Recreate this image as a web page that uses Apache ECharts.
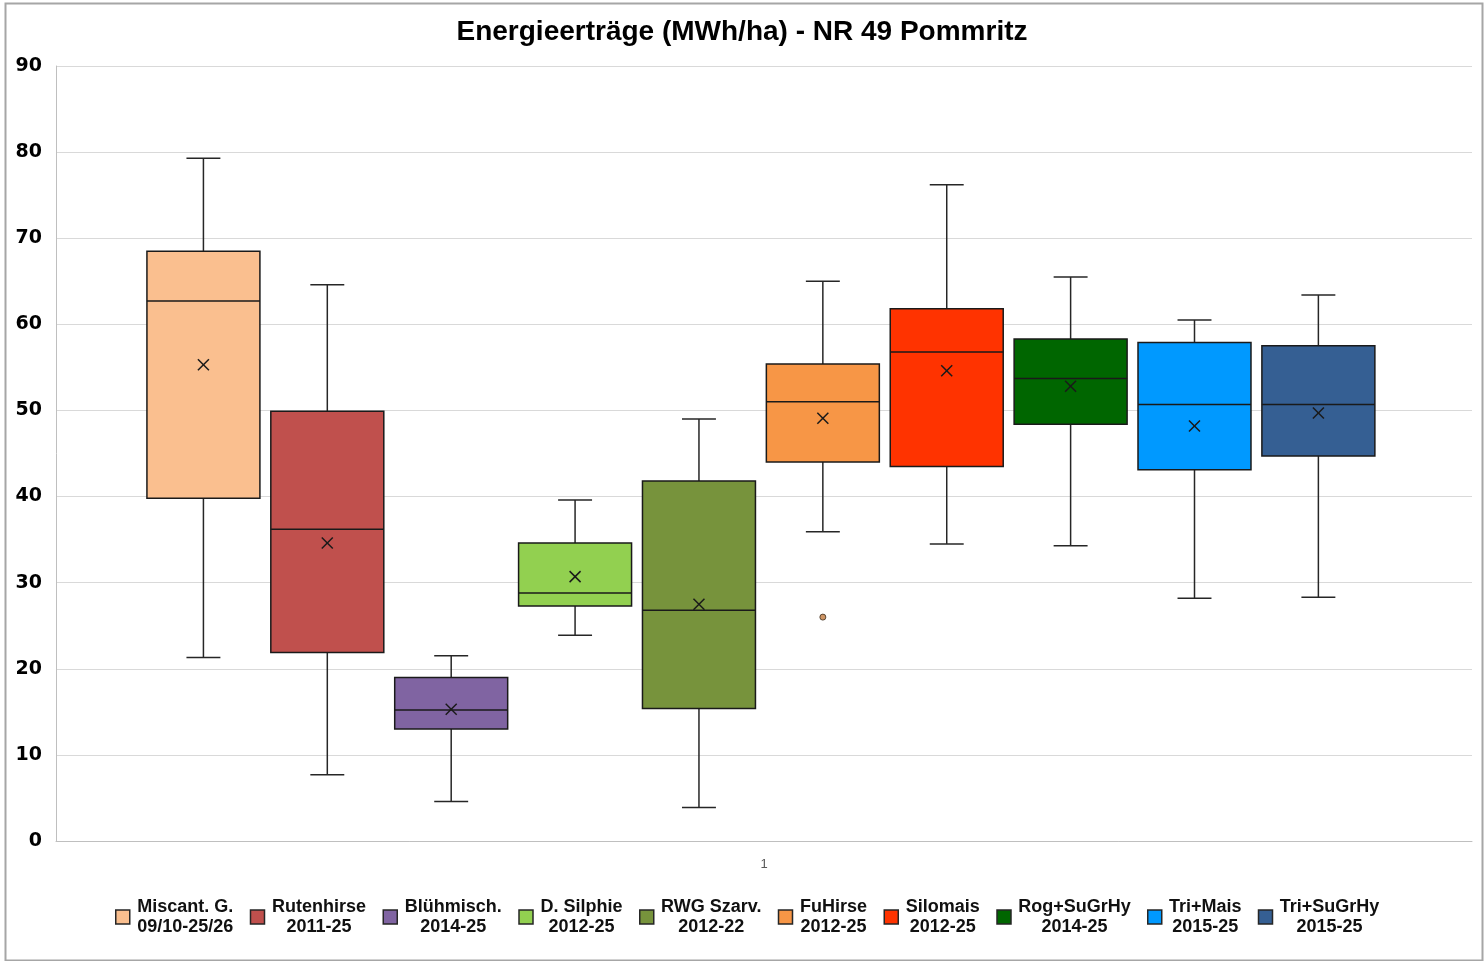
<!DOCTYPE html>
<html>
<head>
<meta charset="utf-8">
<title>Energieerträge NR 49 Pommritz</title>
<script src="https://cdn.jsdelivr.net/npm/echarts@6/dist/echarts.min.js"></script>
<style>
  html, body { margin: 0; padding: 0; background: #fff; }
  #chartBox { width: 1484px; height: 961px; }
</style>
</head>
<body>
<div id="chartBox"></div>
<script>
// Kulturen (Legende, zweizeilig)
var categories = [
  "Miscant. G.\n09/10-25/26",
  "Rutenhirse\n2011-25",
  "Blühmisch.\n2014-25",
  "D. Silphie\n2012-25",
  "RWG Szarv.\n2012-22",
  "FuHirse\n2012-25",
  "Silomais\n2012-25",
  "Rog+SuGrHy\n2014-25",
  "Tri+Mais\n2015-25",
  "Tri+SuGrHy\n2015-25"
];
var colors = ["#FABF8F", "#C0504D", "#8064A2", "#92D050", "#77933C",
              "#F79646", "#FF3300", "#006600", "#0099FF", "#355F93"];

// Kennwerte (MWh/ha)
var minVals    = [21.3,  7.7,  4.6, 23.9,  3.9, 35.9, 34.5, 34.3, 28.2, 28.3];
var q1Vals     = [39.8, 21.9, 13.0, 27.3, 15.4, 44.0, 43.5, 48.4, 43.1, 44.7];
var medianVals = [62.7, 36.2, 15.2, 28.8, 26.8, 51.0, 56.8, 53.7, 50.7, 50.7];
var q3Vals     = [68.5, 49.9, 19.0, 34.6, 41.8, 55.4, 61.8, 58.3, 57.9, 57.5];
var maxVals    = [79.3, 64.6, 21.5, 39.6, 49.0, 65.0, 76.2, 65.5, 60.5, 63.4];
var meanVals   = [55.3, 34.6, 15.3, 30.7, 27.5, 49.1, 54.6, 52.8, 48.2, 49.7];
// Ausreißer: [Kultur-Index, Wert]
var outliers = [[5, 26.0]];

var yTicks = [0, 10, 20, 30, 40, 50, 60, 70, 80, 90];
var xLabels = ["1"];

var legendFont = "bold 18px 'Liberation Sans', Arial, sans-serif";

// Breite der längsten Zeile messen, damit beide Zeilen zentriert stehen
var measureCtx = document.createElement("canvas").getContext("2d");
measureCtx.font = legendFont;
var richStyles = {};
categories.forEach(function (name, i) {
  var w = 0;
  name.split("\n").forEach(function (line) {
    w = Math.max(w, measureCtx.measureText(line).width);
  });
  richStyles["c" + i] = {
    width: Math.ceil(w),
    align: "center",
    fontSize: 18,
    fontWeight: "bold",
    fontFamily: "'Liberation Sans', Arial, sans-serif",
    color: "#111",
    lineHeight: 20,
    padding: [0, 0, 0, 2]
  };
});

//Box zeichnen
function renderBox(params, api) {
  var x = api.value(0);
  var lo = api.coord([x, api.value(1)]);
  var q1 = api.coord([x, api.value(2)]);
  var med = api.coord([x, api.value(3)]);
  var q3 = api.coord([x, api.value(4)]);
  var hi = api.coord([x, api.value(5)]);
  var mean = api.coord([x, api.value(6)]);
  var bw = api.size([0.912, 0])[0];
  var cw = api.size([0.274, 0])[0];
  var cx = lo[0];
  var fill = api.visual("color");
  var lineStyle = { stroke: "#262626", lineWidth: 1.5 };
  var m = 5.5;
  return {
    type: "group",
    children: [
      { type: "line", shape: { x1: cx, y1: q1[1], x2: cx, y2: lo[1] }, style: lineStyle },
      { type: "line", shape: { x1: cx, y1: q3[1], x2: cx, y2: hi[1] }, style: lineStyle },
      { type: "line", shape: { x1: cx - cw / 2, y1: lo[1], x2: cx + cw / 2, y2: lo[1] }, style: lineStyle },
      { type: "line", shape: { x1: cx - cw / 2, y1: hi[1], x2: cx + cw / 2, y2: hi[1] }, style: lineStyle },
      {
        type: "rect",
        shape: { x: cx - bw / 2, y: q3[1], width: bw, height: q1[1] - q3[1] },
        style: { fill: fill, stroke: "#1a1a1a", lineWidth: 1.5 }
      },
      { type: "line", shape: { x1: cx - bw / 2, y1: med[1], x2: cx + bw / 2, y2: med[1] }, style: { stroke: "#1a1a1a", lineWidth: 1.5 } },
      { type: "line", shape: { x1: mean[0] - m, y1: mean[1] - m, x2: mean[0] + m, y2: mean[1] + m }, style: { stroke: "#1a1a1a", lineWidth: 1.5 } },
      { type: "line", shape: { x1: mean[0] - m, y1: mean[1] + m, x2: mean[0] + m, y2: mean[1] - m }, style: { stroke: "#1a1a1a", lineWidth: 1.5 } }
    ]
  };
}

var seriesList = categories.map(function (name, i) {
  return {
    name: name,
    type: "custom",
    xAxisIndex: 0,
    yAxisIndex: 0,
    renderItem: renderBox,
    itemStyle: { color: colors[i], borderColor: "#262626", borderWidth: 1 },
    encode: { x: 0, y: [1, 2, 3, 4, 5] },
    data: [[i + 1, minVals[i], q1Vals[i], medianVals[i], q3Vals[i], maxVals[i], meanVals[i]]],
    z: 3
  };
});

seriesList.push({
  name: "Ausreißer",
  type: "scatter",
  xAxisIndex: 0,
  yAxisIndex: 0,
  symbol: "circle",
  symbolSize: 6,
  itemStyle: { color: "#C27A3E", borderColor: "#3a2a1a", borderWidth: 1 },
  data: outliers.map(function (o) { return [o[0] + 1, o[1]]; }),
  z: 4
});

var chart = echarts.init(document.getElementById("chartBox"));

var option = {
  backgroundColor: "#fff",
  animation: false,
  title: {
    text: "Energieerträge (MWh/ha) - NR 49 Pommritz",
    left: "center",
    top: 13,
    textStyle: {
      fontFamily: "'Liberation Sans', Arial, sans-serif",
      fontSize: 28,
      fontWeight: "bold",
      color: "#000"
    }
  },
  graphic: [
    {
      type: "rect",
      left: 3,
      top: 1,
      shape: { width: 1477, height: 957 },
      style: { fill: "none", stroke: "#a6a6a6", lineWidth: 2 },
      silent: true
    }
  ],
  legend: {
    data: categories,
    bottom: 20,
    left: 110,
    icon: "rect",
    itemWidth: 14,
    itemHeight: 14,
    itemGap: 16,
    itemStyle: { borderColor: "#262626", borderWidth: 1.5 },
    formatter: function (name) {
      var i = categories.indexOf(name);
      return name.split("\n").map(function (line) {
        return "{c" + i + "|" + line + "}";
      }).join("\n");
    },
    textStyle: { rich: richStyles }
  },
  grid: {
    left: 56,
    right: 12,
    top: 66,
    bottom: 120,
    containLabel: false
  },
  xAxis: [
    {
      type: "value",
      min: -0.19,
      max: 11.24,
      axisLine: { show: true, lineStyle: { color: "#bfbfbf", width: 1 } },
      axisTick: { show: false },
      axisLabel: { show: false },
      splitLine: { show: false }
    },
    {
      type: "category",
      position: "bottom",
      data: xLabels,
      axisLine: { show: false },
      axisTick: { show: false },
      axisLabel: {
        color: "#595959",
        fontSize: 13,
        fontFamily: "'Liberation Sans', Arial, sans-serif",
        margin: 17
      },
      splitLine: { show: false }
    }
  ],
  yAxis: {
    type: "value",
    min: yTicks[0],
    max: yTicks[yTicks.length - 1],
    interval: 10,
    axisLine: { show: true, onZero: false, lineStyle: { color: "#bfbfbf", width: 1 } },
    axisTick: { show: false },
    axisLabel: {
      color: "#000",
      fontFamily: "'DejaVu Sans', Verdana, sans-serif",
      fontWeight: "bold",
      fontSize: 19,
      margin: 14
    },
    splitLine: { lineStyle: { color: "#d9d9d9", width: 1 } }
  },
  series: seriesList
};

chart.setOption(option);
</script>
</body>
</html>
